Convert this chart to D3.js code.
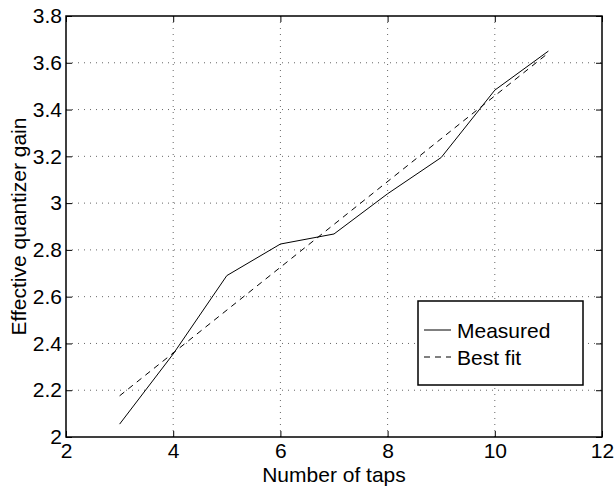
<!DOCTYPE html>
<html>
<head>
<meta charset="utf-8">
<script src="https://cdn.jsdelivr.net/npm/d3@7"></script>
<style>
  html, body { margin: 0; padding: 0; background: #fff; }
  text { font-family: "Liberation Sans", Arial, Helvetica, sans-serif; }
</style>
</head>
<body>
<svg id="chart" width="616" height="489"></svg>
<script>
// ---- data ----
const taps = [3, 4, 5, 6, 7, 8, 9, 10, 11];
const measured = [2.055, 2.355, 2.69, 2.825, 2.868, 3.04, 3.195, 3.483, 3.65];
const fitX = [3, 11];
const fitY = [2.176, 3.642];
const xTicks = [2, 4, 6, 8, 10, 12];
const yTicks = [2, 2.2, 2.4, 2.6, 2.8, 3, 3.2, 3.4, 3.6, 3.8];
const xLabel = "Number of taps";
const yLabel = "Effective quantizer gain";
const legendLabels = ["Measured", "Best fit"];

// ---- layout ----
const svg = d3.select("#chart");
const L = 66, R = 602, T = 16, B = 437;
const x = d3.scaleLinear().domain([2, 12]).range([L, R]);
const y = d3.scaleLinear().domain([2, 3.8]).range([B, T]);
const fs = 21;

// grid
const g = svg.append("g");
g.selectAll(".gx").data(xTicks.slice(1, -1)).join("line")
  .attr("x1", d => x(d)).attr("x2", d => x(d)).attr("y1", T).attr("y2", B)
  .attr("stroke", "#666").attr("stroke-width", 1).attr("stroke-dasharray", "1,5");
g.selectAll(".gy").data(yTicks.slice(1, -1)).join("line")
  .attr("y1", d => y(d)).attr("y2", d => y(d)).attr("x1", L).attr("x2", R)
  .attr("stroke", "#666").attr("stroke-width", 1).attr("stroke-dasharray", "1,5");

// axes
const tl = 6;
const xb = svg.append("g").attr("transform", `translate(0,${B})`)
  .call(d3.axisBottom(x).tickValues(xTicks).tickSize(-tl).tickPadding(6).tickFormat(d3.format("d")));
const xt = svg.append("g").attr("transform", `translate(0,${T})`)
  .call(d3.axisTop(x).tickValues(xTicks).tickSize(-tl).tickFormat(""));
const yl = svg.append("g").attr("transform", `translate(${L},0)`)
  .call(d3.axisLeft(y).tickValues(yTicks).tickSize(-tl).tickPadding(4).tickFormat(d => d3.format("")(+d.toFixed(1))));
const yr = svg.append("g").attr("transform", `translate(${R},0)`)
  .call(d3.axisRight(y).tickValues(yTicks).tickSize(-tl).tickFormat(""));
[xb, xt, yl, yr].forEach(a => {
  a.select(".domain").remove();
  a.selectAll(".tick line").attr("stroke", "#000").attr("stroke-width", 1);
  a.selectAll("text").attr("fill", "#000").style("font-size", fs + "px")
    .style("font-family", "'Liberation Sans', Arial, sans-serif");
});
svg.append("rect").attr("x", L).attr("y", T).attr("width", R - L).attr("height", B - T)
  .attr("fill", "none").attr("stroke", "#000").attr("stroke-width", 1.5);

// lines
const line = d3.line().x(d => x(d[0])).y(d => y(d[1]));
svg.append("path").datum(taps.map((t, i) => [t, measured[i]]))
  .attr("d", line).attr("fill", "none").attr("stroke", "#000").attr("stroke-width", 1);
svg.append("path").datum(fitX.map((t, i) => [t, fitY[i]]))
  .attr("d", line).attr("fill", "none").attr("stroke", "#000").attr("stroke-width", 1)
  .attr("stroke-dasharray", "6,5");

// labels
svg.append("text").attr("x", (L + R) / 2).attr("y", 482).attr("text-anchor", "middle")
  .style("font-size", fs + "px").text(xLabel);
svg.append("text").attr("transform", `translate(26,${(T + B) / 2}) rotate(-90)`)
  .attr("text-anchor", "middle").style("font-size", fs + "px").text(yLabel);

// legend
const lg = svg.append("g");
lg.append("rect").attr("x", 418).attr("y", 301).attr("width", 165).attr("height", 84)
  .attr("fill", "#fff").attr("stroke", "#000").attr("stroke-width", 1.5);
const rows = [330, 357];
legendLabels.forEach((lab, i) => {
  lg.append("line").attr("x1", 424).attr("x2", 451).attr("y1", rows[i]).attr("y2", rows[i])
    .attr("stroke", "#000").attr("stroke-width", 1)
    .attr("stroke-dasharray", i === 1 ? "6,5" : null);
  lg.append("text").attr("x", 457).attr("y", rows[i]).attr("dy", "0.36em")
    .style("font-size", fs + "px").text(lab);
});
</script>
</body>
</html>
